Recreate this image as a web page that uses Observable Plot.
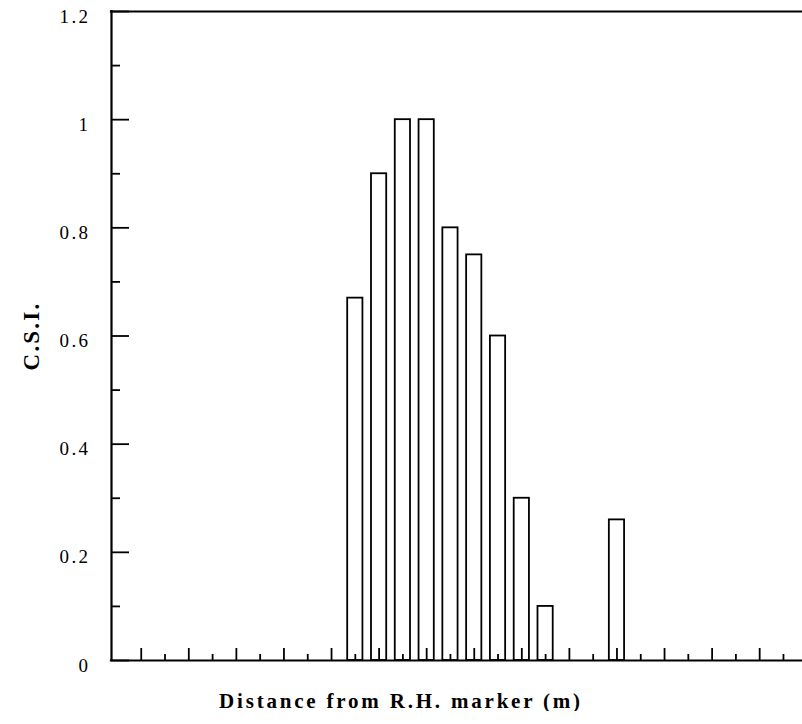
<!DOCTYPE html>
<html>
<head>
<meta charset="utf-8">
<script src="https://cdn.jsdelivr.net/npm/d3@7"></script>
<script src="https://cdn.jsdelivr.net/npm/@observablehq/plot@0.6"></script>
<style>
  html, body { margin: 0; padding: 0; background: #fff; }
  #chart { width: 802px; }
  #xtitle {
    width: 802px;
    text-align: center;
    font-family: "Liberation Serif", "Times New Roman", serif;
    font-weight: bold;
    font-size: 21px;
    letter-spacing: 2.8px;
    line-height: 20px;
    margin-top: 11px;
    color: #000;
  }
</style>
</head>
<body>
<div id="chart"></div>
<div id="xtitle">Distance from R.H. marker (m)</div>
<script>
// ---- data ----
const distance = [9, 10, 11, 12, 13, 14, 15, 16, 17, 20];
const csi      = [0.67, 0.9, 1.0, 1.0, 0.8, 0.75, 0.6, 0.3, 0.1, 0.26];

const yTicks      = [0, 0.2, 0.4, 0.6, 0.8, 1, 1.2];
const yTickLabels = ["0", "0.2", "0.4", "0.6", "0.8", "1", "1.2"];
const yMinorTicks = [0.1, 0.3, 0.5, 0.7, 0.9, 1.1];
const xMajorTicks = [0, 2, 4, 6, 8, 10, 12, 14, 16, 18, 20, 22, 24, 26];
const xMinorTicks = [1, 3, 5, 7, 9, 11, 13, 15, 17, 19, 21, 23, 25, 27];

const xDomain = [-1.25, 27.8];
const yDomain = [0, 1.2];
const yLabel = "C.S.I.";

// ---- layout ----
const W = 802, H = 680;
const mL = 111, mR = 0, mT = 11, mB = 20;
const plotW = W - mL - mR, plotH = H - mT - mB;
const barHalf = 0.32;
const serif = '"Liberation Serif", "Times New Roman", serif';

const bars = distance.map((d, i) => ({distance: d, csi: csi[i]}));
const yLabelData = yTicks.map((v, i) => ({v, label: yTickLabels[i]}));

const chart = Plot.plot({
  width: W,
  height: H,
  marginLeft: mL,
  marginRight: mR,
  marginTop: mT,
  marginBottom: mB,
  style: {fontFamily: serif, background: "white", color: "black", overflow: "visible"},
  x: {domain: xDomain, axis: null},
  y: {domain: yDomain, axis: null},
  marks: [
    Plot.rectY(bars, {
      x1: d => d.distance - barHalf,
      x2: d => d.distance + barHalf,
      y: "csi",
      fill: "white",
      stroke: "black",
      strokeWidth: 1.8
    }),
    // x ticks (inward)
    Plot.tickX(xMajorTicks, {x: d => d, insetTop: plotH - 12, stroke: "black", strokeWidth: 1.8}),
    Plot.tickX(xMinorTicks, {x: d => d, insetTop: plotH - 6, stroke: "black", strokeWidth: 1.8}),
    // y ticks (inward)
    Plot.tickY(yTicks, {y: d => d, insetRight: plotW - 18, stroke: "black", strokeWidth: 1.8}),
    Plot.tickY(yMinorTicks, {y: d => d, insetRight: plotW - 9, stroke: "black", strokeWidth: 1.8}),
    // frame: left, top, bottom
    Plot.ruleY([yDomain[0]], {stroke: "black", strokeWidth: 2.2, strokeLinecap: "square"}),
    Plot.ruleY([yDomain[1]], {stroke: "black", strokeWidth: 2.2, strokeLinecap: "square"}),
    Plot.ruleX([xDomain[0]], {stroke: "black", strokeWidth: 2.2, strokeLinecap: "square"}),
    // y tick labels
    Plot.text(yLabelData, {
      y: "v",
      text: "label",
      frameAnchor: "left",
      textAnchor: "end",
      dx: -21,
      dy: 5,
      fontSize: 19,
      fill: "black",
      fontFamily: serif
    }),
    // y axis title
    Plot.text([yLabel], {
      text: d => d,
      frameAnchor: "left",
      textAnchor: "middle",
      lineAnchor: "middle",
      dx: -80,
      rotate: -90,
      fontSize: 23,
      fontWeight: "bold",
      fill: "black",
      fontFamily: serif
    })
  ]
});

// letter spacing as in the reference typography
d3.select(chart).selectAll("text").each(function () {
  const t = this.textContent;
  if (t === yLabel) this.setAttribute("letter-spacing", "2.2px");
  else if (yTickLabels.includes(t)) this.setAttribute("letter-spacing", "2.4px");
});

document.getElementById("chart").appendChild(chart);
</script>
</body>
</html>
